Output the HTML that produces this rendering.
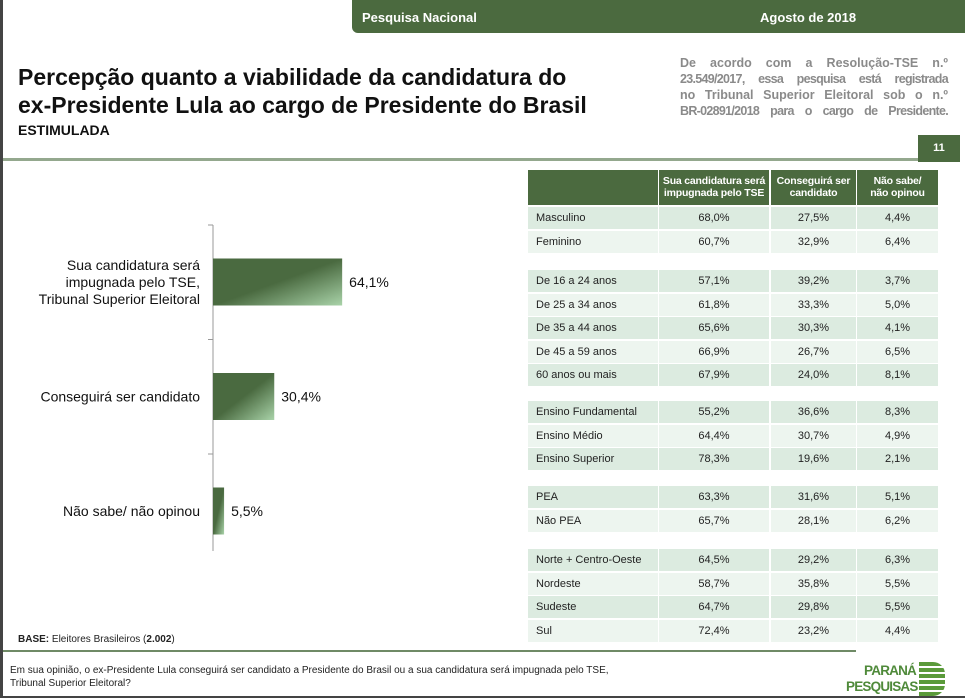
<!DOCTYPE html>
<html><head><meta charset="utf-8">
<style>
body{margin:0;width:965px;height:698px;position:relative;overflow:hidden;background:#fff;font-family:"Liberation Sans",sans-serif;}
.a{position:absolute;}
.cell{position:absolute;font-size:11px;color:#222;line-height:22px;}
.jl{text-align:justify;text-align-last:justify;white-space:nowrap;}
</style></head><body>
<div class="a" style="left:0;top:0;width:3px;height:698px;background:#444"></div>
<div class="a" style="left:0;top:696px;width:965px;height:2px;background:#444"></div>
<div class="a" style="left:352px;top:0;width:613px;height:33px;background:#4b6a3f;border-bottom-left-radius:6px"></div>
<div class="a" style="left:362px;top:10px;color:#fff;font-weight:bold;font-size:13px">Pesquisa Nacional</div>
<div class="a" style="left:760px;top:10px;color:#fff;font-weight:bold;font-size:13px">Agosto de 2018</div>
<div class="a" style="left:18px;top:63px;font-size:23px;font-weight:bold;line-height:28px;color:#111;white-space:nowrap">Percepção quanto a viabilidade da candidatura do<br>ex-Presidente Lula ao cargo de Presidente do Brasil</div>
<div class="a" style="left:18px;top:122px;font-size:14px;font-weight:bold;color:#111">ESTIMULADA</div>
<div class="a" style="left:680px;top:55px;width:268px;font-size:12.5px;font-weight:bold;color:#8a8a8a;line-height:16px">
<div class="jl">De acordo com a Resolução-TSE n.º</div>
<div class="jl" style="letter-spacing:-0.7px">23.549/2017, essa pesquisa está registrada</div>
<div class="jl">no Tribunal Superior Eleitoral sob o n.º</div>
<div class="jl" style="letter-spacing:-0.7px">BR-02891/2018 para o cargo de Presidente.</div>
</div>
<div class="a" style="left:3px;top:158px;width:915px;height:3px;background:#94a88e"></div>
<div class="a" style="left:918px;top:135px;width:42px;height:27px;background:#4b6a3f;color:#fff;font-weight:bold;font-size:11px;line-height:27px;text-align:center">11</div>

<svg class="a" style="left:0;top:0" width="520" height="600">
<defs><linearGradient id="g" x1="0" y1="0" x2="1" y2="1"><stop offset="0.5" stop-color="#4a6a40"/><stop offset="1" stop-color="#a9d3a9"/></linearGradient></defs>
<g id="chart"></g>
</svg>

<div class="a" style="left:18px;top:634px;font-size:10px;color:#222"><b>BASE:</b> Eleitores Brasileiros (<b>2.002</b>)</div>
<div class="a" style="left:3px;top:650px;width:853px;height:2px;background:#6f8a66"></div>
<div class="a" style="left:10px;top:664px;font-size:10px;color:#222;line-height:13px">Em sua opinião, o ex-Presidente Lula conseguirá ser candidato a Presidente do Brasil ou a sua candidatura será impugnada pelo TSE,<br>Tribunal Superior Eleitoral?</div>
<div class="a" style="left:846px;top:663px;font-size:13.5px;font-weight:bold;color:#4f8a3a;line-height:16px;text-align:right;width:70px;letter-spacing:-0.8px">PARANÁ<br>PESQUISAS</div>
<div class="a" style="left:919px;top:662px;width:26px;height:34px;background:repeating-linear-gradient(#5a9a3a 0 4px,#fff 4px 6px);border-radius:0 12px 12px 0"></div>

<div id="table"></div>

<script>
const categories=["Sua candidatura será\nimpugnada pelo TSE,\nTribunal Superior Eleitoral","Conseguirá ser candidato","Não sabe/ não opinou"];
const values=[64.1,30.4,5.5];
const valueLabels=["64,1%","30,4%","5,5%"];
const rowLabels=[["Masculino","Feminino"],["De 16 a 24 anos","De 25 a 34 anos","De 35 a 44 anos","De 45 a 59 anos","60 anos ou mais"],["Ensino Fundamental","Ensino Médio","Ensino Superior"],["PEA","Não PEA"],["Norte + Centro-Oeste","Nordeste","Sudeste","Sul"]];
const colImpugnada=[["68,0%","60,7%"],["57,1%","61,8%","65,6%","66,9%","67,9%"],["55,2%","64,4%","78,3%"],["63,3%","65,7%"],["64,5%","58,7%","64,7%","72,4%"]];
const colCandidato=[["27,5%","32,9%"],["39,2%","33,3%","30,3%","26,7%","24,0%"],["36,6%","30,7%","19,6%"],["31,6%","28,1%"],["29,2%","35,8%","29,8%","23,2%"]];
const colNaoSabe=[["4,4%","6,4%"],["3,7%","5,0%","4,1%","6,5%","8,1%"],["8,3%","4,9%","2,1%"],["5,1%","6,2%"],["6,3%","5,5%","5,5%","4,4%"]];

const NS="http://www.w3.org/2000/svg";
const g=document.getElementById('chart');
const x0=213, scale=2.015, top0=225, band=114.5, barH=47;
const xs=v=>x0+v*scale;
function mk(tag,attrs){const e=document.createElementNS(NS,tag);for(const k in attrs)e.setAttribute(k,attrs[k]);g.appendChild(e);return e;}
const ax=mk('line',{x1:x0,x2:x0,y1:top0,y2:top0+band*categories.length-(band-97),stroke:'#999'});


for(let i=0;i<=categories.length-1;i++){
  const t=mk('line',{x1:x0-5,x2:x0,y1:top0+band*i,y2:top0+band*i,stroke:'#999'});
  
  
}
categories.forEach((c,i)=>{
  const yc=top0+band*i+57;
  const r=mk('rect',{x:x0,y:yc-barH/2,width:xs(values[i])-x0,height:barH,fill:'url(#g)'});
  
  
  const vl=mk('text',{x:xs(values[i])+7,y:yc+5,'font-size':14,fill:'#111','font-family':'Liberation Sans'});
  vl.textContent=valueLabels[i];
  
  
  const lines=c.split('\n');
  lines.forEach((ln,j)=>{
    const t=mk('text',{x:200,y:yc+5+(j-(lines.length-1)/2)*17,'font-size':14,fill:'#111','text-anchor':'end','font-family':'Liberation Sans'});
    t.textContent=ln;
    
    
  });
});

const tb=document.getElementById('table');
const cols=[[528,130],[659,110],[771,85],[857,81]];
function cell(txt,x,y,w,h,bg,align,style){
  const d=document.createElement('div');d.className='cell';
  d.style.cssText=`left:${x}px;top:${y}px;width:${w}px;height:${h}px;background:${bg};text-align:${align};${style||''}`;
  d.textContent=txt;tb.appendChild(d);return d;
}
const hdr=["","Sua candidatura será\nimpugnada pelo TSE","Conseguirá ser\ncandidato","Não sabe/\nnão opinou"];
hdr.forEach((h,i)=>{
  const d=cell(h,cols[i][0],170,cols[i][1],35,'#4b6a3f','center','color:#fff;font-weight:bold;font-size:10.5px;line-height:12px;white-space:pre;padding-top:5px;box-sizing:border-box;letter-spacing:-0.2px');
  
  
});
const groupTops=[207,270,401,486,549];
const pitch=23.6;
rowLabels.forEach((grp,gi)=>{
  grp.forEach((lab,ri)=>{
    const y=Math.round(groupTops[gi]+ri*pitch);
    const bg=ri%2===0?'#dcebe0':'#edf5ef';
    const vals=[lab,colImpugnada[gi][ri],colCandidato[gi][ri],colNaoSabe[gi][ri]];
    vals.forEach((v,ci)=>{
      const d=cell(v,cols[ci][0],y,cols[ci][1],22,bg,ci===0?'left':'center',ci===0?'padding-left:8px;box-sizing:border-box':'');
      
      
    });
  });
});
</script>
</body></html>
